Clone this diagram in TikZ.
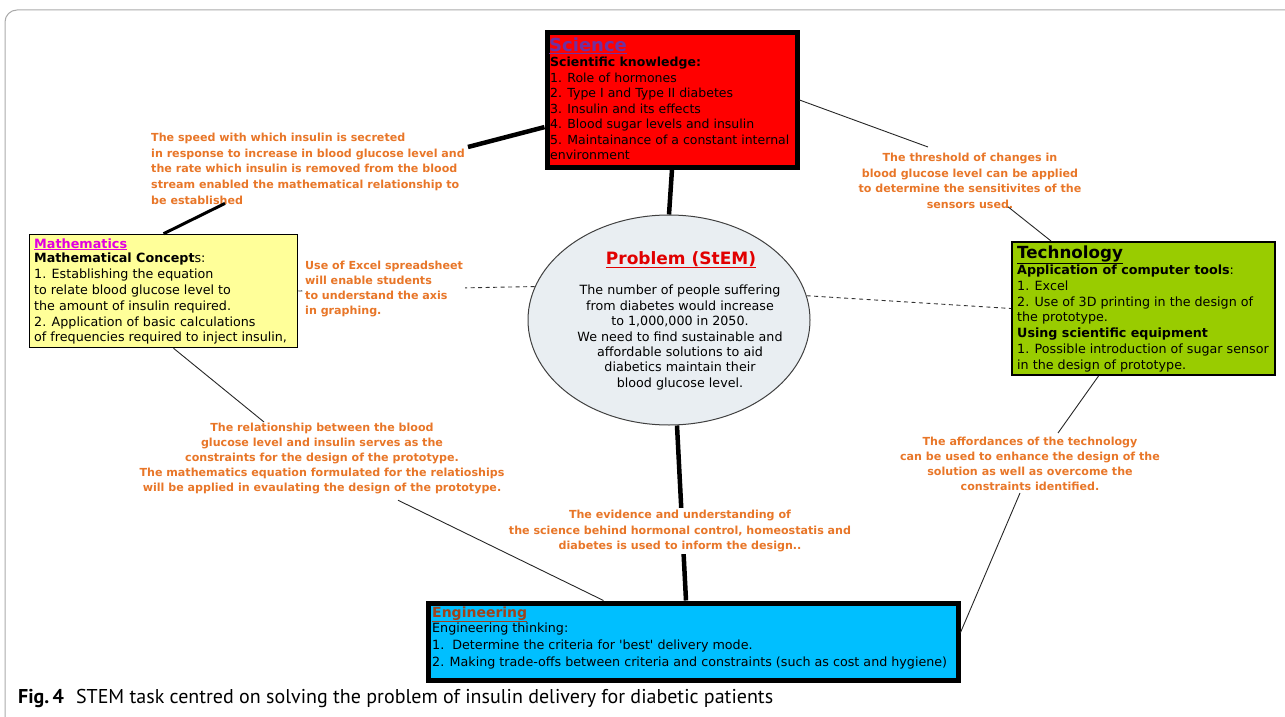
\documentclass[tikz,border=0pt]{standalone}
\usepackage{fontspec}
\setmainfont{DejaVu Sans}
\newfontfamily\capfont{PT Sans}
\usetikzlibrary{calc,shapes.geometric}
\definecolor{orng}{RGB}{232,118,40}
\definecolor{scired}{RGB}{255,0,0}
\definecolor{scititle}{RGB}{112,48,160}
\definecolor{mathfill}{RGB}{255,255,153}
\definecolor{mathtitle}{RGB}{224,0,224}
\definecolor{techfill}{RGB}{153,204,0}
\definecolor{engfill}{RGB}{0,191,255}
\definecolor{engtitle}{RGB}{160,66,26}
\definecolor{ellfill}{RGB}{233,238,242}
\definecolor{probred}{RGB}{225,0,0}
\definecolor{framegray}{RGB}{170,170,170}
\newcommand\bodyfs{\fontsize{12.7}{15.5}\selectfont}
\newcommand\notefs{\fontsize{11.1}{15.6}\selectfont\bfseries}
\tikzset{
  boxshape/.style={draw=black, anchor=north west, inner sep=0pt},
  boxtext/.style={anchor=north west, align=left, inner sep=0pt, font=\bodyfs},
  boxtitle/.style={anchor=base west, inner sep=0pt},
  notetext/.style={text=orng, font=\notefs, inner sep=1pt},
  thinline/.style={draw=black!85, line width=0.9pt},
  thickline/.style={draw=black, line width=4.5pt},
  dashline/.style={draw=black!80, line width=0.9pt, dash pattern=on 4pt off 3.5pt},
}
\begin{document}
\begin{tikzpicture}[x=1pt,y=-1pt]
\useasboundingbox (0,0) rectangle (1285,717);
% outer frame
\draw[framegray, line width=1pt, rounded corners=12pt] (5,717) -- (5,10) -- (1285,10);

% boxes
\node[boxshape, fill=scired, line width=5pt, minimum width=250pt, minimum height=134pt] (sci) at (544.5,30.5) {};
\node[boxshape, fill=mathfill, line width=1.5pt, minimum width=268pt, minimum height=113pt] (math) at (28.75,233.75) {};
\node[boxshape, fill=techfill, line width=2pt, minimum width=263pt, minimum height=133pt] (tech) at (1011,241) {};
\node[boxshape, fill=engfill, line width=5pt, minimum width=530pt, minimum height=77pt] (eng) at (425.5,600.5) {};
\node[ellipse, draw=black!75, line width=1pt, fill=ellfill, minimum width=282pt, minimum height=210pt, inner sep=0pt] (ell) at (669,320) {};

% connectors
\draw[dashline] (math.east) -- (ell.166);
\draw[dashline] (ell.10) -- (tech.west);
\draw[thickline] (sci.south) -- (ell.north);
\draw[thickline] ($(ell.south)+(8,0)$) -- ($(eng.north)+(-7,0)$);

% Science text
\node[boxtitle, font=\fontsize{18}{20}\selectfont\bfseries, text=scititle] (scit) at (549,52) {\underline{Science}};
\node[boxtext, font=\fontsize{12.5}{15.5}\selectfont] (scib) at (550,57) {\textbf{Scientific knowledge:}\\
1. Role of hormones\\
2. Type I and Type II diabetes\\
3. Insulin and its effects\\
4. Blood sugar levels and insulin\\
5. Maintainance of a constant internal\\
environment};

% Mathematics text
\node[boxtitle, font=\fontsize{12.8}{14}\selectfont\bfseries, text=mathtitle] (matht) at (34,248) {\underline{Mathematics}};
\node[boxtext, font=\fontsize{12.7}{15.8}\selectfont] (mathb) at (34,253) {\textbf{Mathematical Concept}s:\\
1. Establishing the equation\\
to relate blood glucose level to\\
the amount of insulin required.\\
2. Application of basic calculations\\
of frequencies required to inject insulin,};

% Technology text
\node[boxtitle, font=\fontsize{16.7}{18}\selectfont\bfseries] (techt) at (1017,258) {\underline{Technology}};
\node[boxtext, font=\fontsize{12.7}{15.7}\selectfont] (techb) at (1017,265) {\textbf{Application of computer tools}:\\
1. Excel\\
2. Use of 3D printing in the design of\\
the prototype.\\
\textbf{Using scientific equipment}\\
1. Possible introduction of sugar sensor\\
in the design of prototype.};

% Engineering text
\node[boxtitle, font=\fontsize{14}{16}\selectfont\bfseries, text=engtitle] (engt) at (432,617) {\underline{Engineering}};
\node[boxtext, font=\fontsize{12.7}{16.8}\selectfont] (engb) at (432,623) {Engineering thinking:\\
1.\ \ Determine the criteria for \textquotesingle best\textquotesingle\ delivery mode.\\
2. Making trade-offs between criteria and constraints (such as cost and hygiene)};

% Problem text
\node[inner sep=0pt, anchor=base, font=\fontsize{17}{19}\selectfont\bfseries, text=probred] (probt) at (681,264) {\underline{Problem (StEM)}};
\node[inner sep=0pt, anchor=north, align=center, font=\fontsize{12.7}{15.4}\selectfont] (probb) at (680,285) {The number of people suffering\\
from diabetes would increase\\
to 1,000,000 in 2050.\\
We need to find sustainable and\\
affordable solutions to aid\\
diabetics maintain their\\
blood glucose level.};

% orange notes
\node[notetext, anchor=north west, align=left] (t1) at (150,132) {The speed with which insulin is secreted\\
in response to increase in blood glucose level and\\
the rate which insulin is removed from the blood\\
stream enabled the mathematical relationship to\\
be established};
\node[notetext, anchor=north west, align=left, fill=white, inner sep=2pt, font=\fontsize{11.1}{15}\selectfont\bfseries] (t2) at (303,259) {Use of Excel spreadsheet\\
will enable students\\
to understand the axis\\
in graphing.};
\node[notetext, anchor=north, align=center] (t3) at (970,152) {The threshold of changes in\\
blood glucose level can be applied\\
to determine the sensitivites of the\\
sensors used.};
\node[notetext, anchor=north, align=center, font=\fontsize{11.1}{15}\selectfont\bfseries] (t4) at (1030,436) {The affordances of the technology\\
can be used to enhance the design of the\\
solution as well as overcome the\\
constraints identified.};
\node[notetext, anchor=north, align=center, font=\fontsize{11.1}{15}\selectfont\bfseries] (t5) at (322,422) {The relationship between the blood\\
glucose level and insulin serves as the\\
constraints for the design of the prototype.\\
The mathematics equation formulated for the relatioships\\
will be applied in evaulating the design of the prototype.};
\node[notetext, anchor=north, align=center, fill=white, inner sep=2pt] (t6) at (680,508) {The evidence and understanding of\\
the science behind hormonal control, homeostatis and\\
diabetes is used to inform the design..};

% remaining connectors
\draw[thickline] (sci.192) -- ($(t1.north east)+(2,15)$);
\draw[line width=3pt] (math.north) -- ($(t1.south west)+(75,-2)$);
\draw[thinline] (sci.east) -- ($(t3.north)+(-42,-5)$);
\draw[thinline] ($(t3.south)+(38,-3)$) -- ($(tech.north west)+(40,0)$);
\draw[thinline] ($(math.south)+(10,0)$) -- ($(t5.north)+(-58,0)$);
\draw[thinline] ($(t5.south)+(76,5)$) -- ($(eng.north west)+(178,0)$);
\draw[thinline] ($(tech.south)+(-45,0)$) -- ($(t4.north)+(28,-3)$);
\draw[thinline] ($(t4.south)+(-10,1)$) -- ($(eng.east)+(0,-9)$);

% caption
\node[anchor=base west, inner sep=0pt, font=\capfont\fontsize{20}{22}\selectfont] (cap) at (18,703) {\textbf{Fig.\,4}\hspace{0.6em}STEM task centred on solving the problem of insulin delivery for diabetic patients};
\end{tikzpicture}
\end{document}
